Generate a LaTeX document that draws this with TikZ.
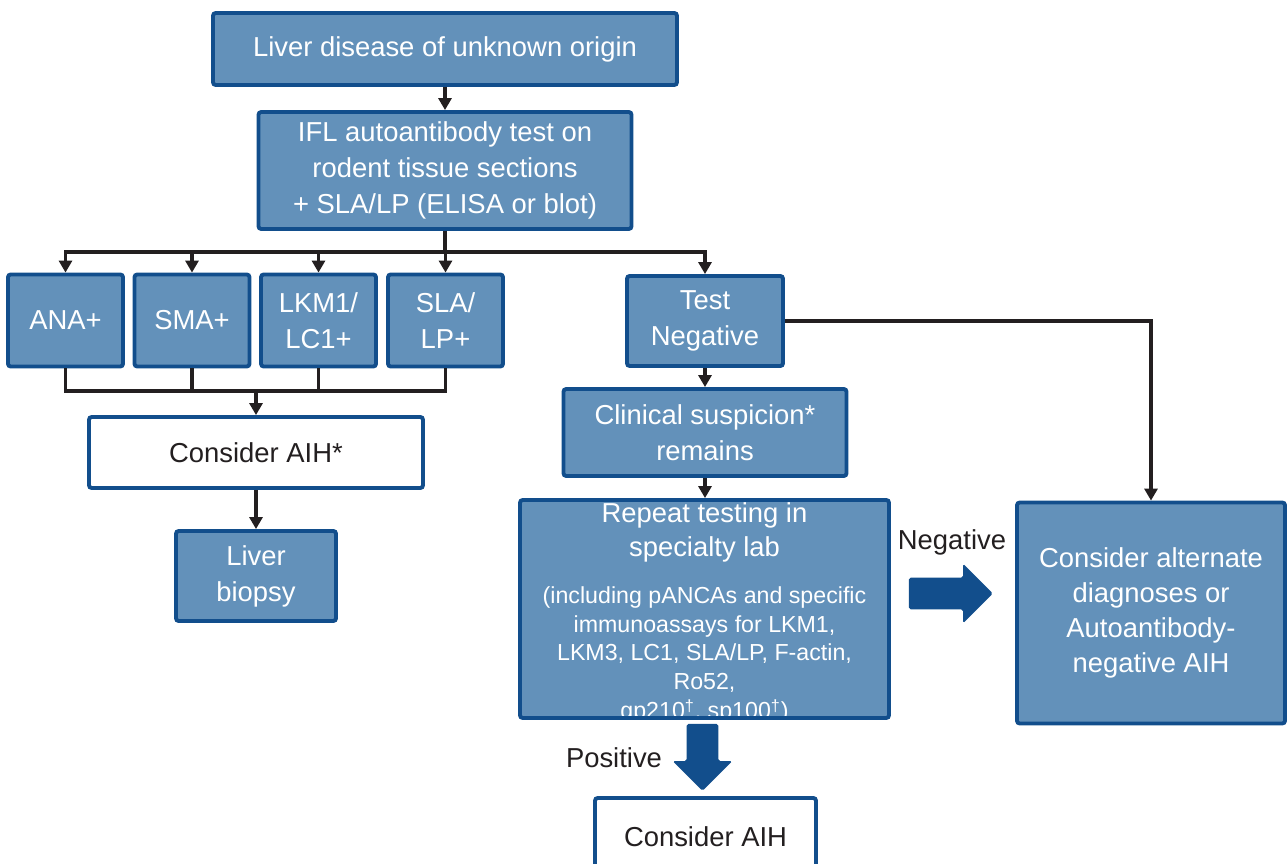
\documentclass[tikz,border=0pt]{standalone}
\usepackage{fontspec}
\setmainfont{Liberation Sans}
\usetikzlibrary{positioning,arrows.meta,shapes.arrows}
\definecolor{boxblue}{HTML}{6391BA}
\definecolor{edgeblue}{HTML}{124E8C}
\definecolor{inkgray}{HTML}{231F20}
\tikzset{block/.style={draw=edgeblue,fill=boxblue,line width=2.2pt,rounded corners=1.5pt,text=white,align=center,inner sep=0pt,font=\fontsize{15.6}{20.5}\selectfont},
         plainblock/.style={block,fill=white,text=inkgray},
         line/.style={line width=2pt,draw=inkgray},
         fat/.style={single arrow,fill=edgeblue,rounded corners=1pt,inner xsep=0pt,inner ysep=0.31cm,single arrow head extend=0.28cm,single arrow head indent=0pt}
}
\tikzstyle{arrow} = [line,-{Triangle[width=0.26cm,length=0.24cm]}]

\begin{document}
\begin{tikzpicture}[x=0.02cm,y=-0.02cm]
\useasboundingbox (0,0) rectangle (1287,864);

\node[block,minimum width=9.28cm,minimum height=1.44cm] (liver) at (445,49) {Liver disease of unknown origin};
\node[block,minimum width=7.46cm,minimum height=2.34cm] (ifl) at (445,170.5) {IFL autoantibody test on\\rodent tissue sections\\+ SLA/LP (ELISA or blot)};
\node[block,minimum width=2.3cm,minimum height=1.84cm] (ana) at (65.5,320.5) {ANA+};
\node[block,minimum width=2.3cm,minimum height=1.84cm] (sma) at (192,320.5) {SMA+};
\node[block,minimum width=2.3cm,minimum height=1.84cm] (lkm) at (318.5,320.5) {LKM1/\\LC1+};
\node[block,minimum width=2.3cm,minimum height=1.84cm] (sla) at (445.5,320.5) {SLA/\\LP+};
\node[block,minimum width=3.12cm,minimum height=1.8cm] (tneg) at (705,321) {Test\\Negative};
\node[plainblock,minimum width=6.68cm,minimum height=1.42cm] (aihq) at (256,452.5) {Consider AIH*};
\node[block,minimum width=3.2cm,minimum height=1.8cm] (biopsy) at (256,576) {Liver\\biopsy};
\node[block,minimum width=5.66cm,minimum height=1.74cm] (clin) at (705,432.5) {Clinical suspicion*\\remains};
\node[block,draw=none,outer sep=1.1pt,minimum width=7.38cm,minimum height=4.36cm] (repeat) at (704.5,609) {};
\node[text=white,align=center,font=\fontsize{15.6}{19.4}\selectfont] (reptitle) at (704.5,532) {Repeat testing in\\specialty lab};
\node[text=white,align=center,font=\fontsize{13.2}{16.5}\selectfont] (repnote) at (704.5,655) {(including pANCAs and specific\\immunoassays for LKM1,\\LKM3, LC1, SLA/LP, F-actin,\\Ro52,\\gp210\textsuperscript{†}, sp100\textsuperscript{†})};
\node[block,fill=none,minimum width=7.38cm,minimum height=4.36cm] (repframe) at (repeat) {};
\node[block,minimum width=5.36cm,minimum height=4.42cm,font=\fontsize{15.6}{19.9}\selectfont] (alt) at (1151,613) {Consider alternate\\diagnoses or\\Autoantibody-\\negative AIH};
\node[plainblock,minimum width=4.42cm,minimum height=1.56cm] (aih) at (705.5,837) {Consider AIH};

\node[text=inkgray,font=\fontsize{15.6}{18}\selectfont] (neglabel) at (952,542) {Negative};
\node[text=inkgray,font=\fontsize{15.6}{18}\selectfont] (poslabel) at (614,758) {Positive};
\node[fat,minimum height=1.68cm] (negarrow) at (943,593.5) {};
\node[fat,minimum height=1.34cm,rotate=-90] (posarrow) at (702.5,749.5) {};

\coordinate (split) at (445,252);
\coordinate (merge) at (256,391);
\draw[arrow] (liver) -- (ifl);
\draw[line] (ifl.south) -- (split);
\draw[arrow] (split) -| (ana.north);
\draw[arrow] (split) -| (tneg.north);
\foreach \b in {sma,lkm,sla}
  \draw[arrow] (split -| \b.north) -- (\b.north);
\draw[line] (ana.south) |- (merge) -| (sla.south);
\foreach \b in {sma,lkm}
  \draw[line] (\b.south) -- (merge -| \b.south);
\draw[arrow] (merge) -- (aihq.north);
\draw[arrow] (aihq) -- (biopsy);
\draw[arrow] (tneg) -- (clin);
\draw[arrow] (clin) -- (clin.south |- repeat.north);
\draw[arrow] (tneg.east) -| (alt.north);

\end{tikzpicture}
\end{document}
